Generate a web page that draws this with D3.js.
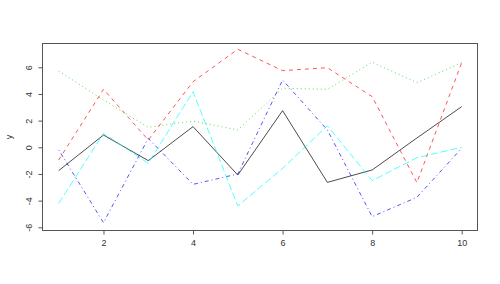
<!DOCTYPE html>
<html><head><meta charset="utf-8">
<script src="https://cdn.jsdelivr.net/npm/d3@7"></script>
<style>body{margin:0;background:#fff}svg{display:block}text{font-family:"Liberation Sans",Arial,sans-serif}</style>
</head><body>
<svg id="c" width="500" height="284"></svg>
<script>
const xs = [1,2,3,4,5,6,7,8,9,10];
const s1 = [-1.75,0.92,-1.0,1.55,-2.08,2.75,-2.63,-1.7,0.7,3.05];
const s2 = [-0.95,4.35,0.55,4.92,7.35,5.75,5.97,3.8,-2.65,6.35];
const s3 = [5.72,3.55,1.5,1.97,1.3,4.43,4.35,6.38,4.85,6.35];
const s4 = [-0.2,-5.65,0.67,-2.78,-2.0,5.05,1.3,-5.2,-3.75,-0.07];
const s5 = [-4.2,1.05,-1.2,4.17,-4.4,-1.58,1.62,-2.5,-0.78,0.0];
const xTicks = [2,4,6,8,10];
const yTicks = [-6,-4,-2,0,2,4,6];
const colors = ["#000000","#FF0000","#00CD00","#0000FF","#00FFFF"];
const dashes = [null,"4,4","1,3","1,3,4,3","7,3"];

const svg = d3.select("#c");
const L=42.5,R=477.5,T=43.5,B=230.5;
const x = d3.scaleLinear().domain([1,10]).range([58.7,461.7]);
const y = d3.scaleLinear().domain([-6,6]).range([227.3,67.3]);

svg.append("rect").attr("x",L).attr("y",T).attr("width",R-L).attr("height",B-T)
  .attr("fill","none").attr("stroke","#555").attr("stroke-width",1);

const series=[s1,s2,s3,s4,s5];
const line = d3.line().x((d,i)=>x(xs[i])).y(d=>y(d));
series.forEach((s,k)=>{
  svg.append("path").attr("d",line(s)).attr("fill","none")
    .attr("stroke",colors[k]).attr("stroke-width",k==0?1:0.9)
    .attr("stroke-opacity",k==0?0.7:0.75)
    .attr("stroke-dasharray",dashes[k]);
});

const gx = svg.append("g").attr("transform",`translate(0,${B})`)
  .call(d3.axisBottom(x).tickValues(xTicks).tickSize(4).tickPadding(5).tickFormat(d3.format("d")));
gx.select(".domain").remove();
const gy = svg.append("g").attr("transform",`translate(${L},0)`)
  .call(d3.axisLeft(y).tickValues(yTicks).tickSize(4).tickPadding(6).tickFormat(d=>d));
gy.select(".domain").remove();
[gx,gy].forEach(g=>{
  g.selectAll("line").attr("stroke","#555");
  g.selectAll("text").attr("fill","#333").style("font-size","9px").style("font-family","'Liberation Sans',Arial,sans-serif");
});
gy.selectAll(".tick text").attr("text-anchor","middle").attr("x",null).attr("dy",null)
  .attr("transform","translate(-13,0) rotate(-90)").attr("dy","0.32em");

svg.append("text").attr("transform","translate(9,137) rotate(-90)").attr("text-anchor","middle")
  .attr("dy","0.32em").style("font-size","9px").attr("fill","#333").text("y");
</script>
</body></html>
